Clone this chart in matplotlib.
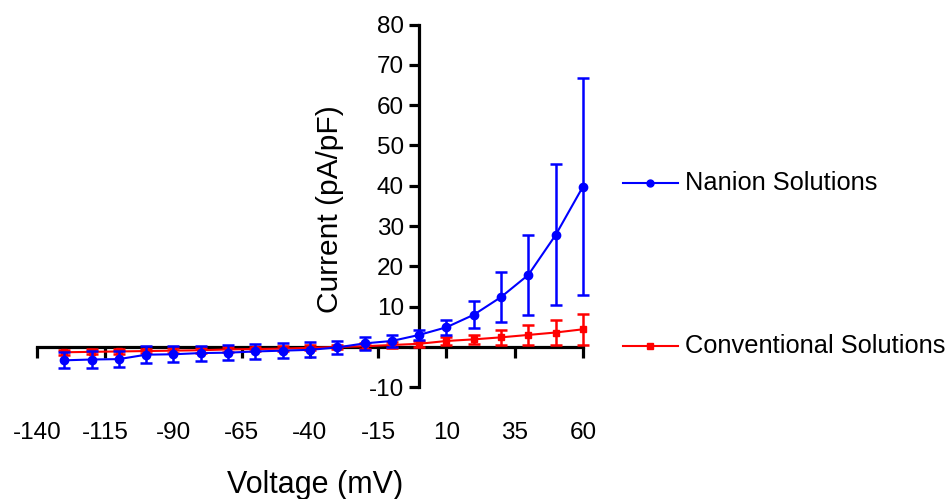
import matplotlib
matplotlib.use("Agg")
import matplotlib.pyplot as plt
from matplotlib.lines import Line2D

plt.rcParams['font.family'] = ['Liberation Sans', 'DejaVu Sans']

# Membrane voltage steps (mV)
voltage = [-130, -120, -110, -100, -90, -80, -70, -60, -50, -40,
           -30, -20, -10, 0, 10, 20, 30, 40, 50, 60]

# Current density (pA/pF), mean and SEM
nanion = [-3.3, -3.1, -3.0, -1.9, -1.8, -1.5, -1.4, -1.1, -0.9, -0.7,
          -0.1, 0.9, 1.5, 3.0, 4.9, 8.0, 12.4, 17.9, 27.8, 39.8]
nanion_sem = [2.0, 2.0, 1.9, 2.1, 2.0, 1.85, 1.85, 1.95, 1.9, 1.9,
              1.7, 1.55, 1.6, 1.2, 1.85, 3.4, 6.3, 9.9, 17.5, 27.0]

conventional = [-1.3, -1.2, -1.1, -1.0, -0.9, -0.8, -0.6, -0.5, -0.4, -0.2,
                0.0, 0.2, 0.5, 0.8, 1.5, 1.9, 2.4, 3.0, 3.6, 4.4]
conventional_sem = [0.6, 0.6, 0.6, 0.6, 0.6, 0.6, 0.6, 0.6, 0.6, 0.6,
                    0.6, 0.7, 0.7, 0.7, 0.9, 1.2, 1.8, 2.5, 3.1, 3.8]

series_labels = ["Nanion Solutions", "Conventional Solutions"]

x_ticks = [-140, -115, -90, -65, -40, -15, 10, 35, 60]
y_ticks = [-10, 0, 10, 20, 30, 40, 50, 60, 70, 80]

fig = plt.figure(figsize=(9.51, 4.99), dpi=100)
ax = fig.add_axes([0.0389, 0.2238, 0.5741, 0.727])

ax.errorbar(voltage, conventional, yerr=conventional_sem, color='#ff0000',
            marker='s', markersize=5, linewidth=1.5, elinewidth=1.8,
            capsize=4.5, capthick=1.8, zorder=3, clip_on=False)
ax.errorbar(voltage, nanion, yerr=nanion_sem, color='#0000ff',
            marker='o', markersize=6, linewidth=1.5, elinewidth=1.8,
            capsize=4.5, capthick=1.8, zorder=4, clip_on=False)

ax.set_xlim(-140, 60)
ax.set_ylim(-10, 80)

for side in ('top', 'right'):
    ax.spines[side].set_visible(False)
ax.spines['left'].set_position(('data', 0))
ax.spines['bottom'].set_position(('data', 0))
for side in ('left', 'bottom'):
    ax.spines[side].set_linewidth(2.3)
    ax.spines[side].set_color('black')
    ax.spines[side].set_zorder(2)

ax.set_xticks(x_ticks)
ax.set_xticklabels([str(v) for v in x_ticks])
ax.set_yticks(y_ticks)
ax.set_yticklabels(['' if v == 0 else str(v) for v in y_ticks])
ax.tick_params(axis='x', direction='out', length=8, width=2.3, pad=46,
               labelsize=17.5)
ax.tick_params(axis='y', direction='out', length=7, width=2.3, pad=4,
               labelsize=17.5)

ax.set_xlabel("Voltage (mV)", fontsize=22)
ax.xaxis.set_label_coords(0.509, -0.228)
ax.set_ylabel("Current (pA/pF)", fontsize=21.5, va='center')
ax.yaxis.set_label_coords(0.5366, 0.49)

# Legend entries placed beside the end of each curve
legend_y = [1 - 183 / 499, 1 - 346 / 499]
legend_style = [('#0000ff', 'o'), ('#ff0000', 's')]
for label, yy, (col, mk) in zip(series_labels, legend_y, legend_style):
    fig.add_artist(Line2D([0.655, 0.713], [yy, yy], color=col, linewidth=1.5,
                          transform=fig.transFigure))
    fig.add_artist(Line2D([0.684], [yy], color=col, marker=mk, markersize=5,
                          transform=fig.transFigure))
    fig.text(0.720, yy, label, fontsize=18.3, va='center', ha='left')

fig.savefig("out.png", dpi=100)
